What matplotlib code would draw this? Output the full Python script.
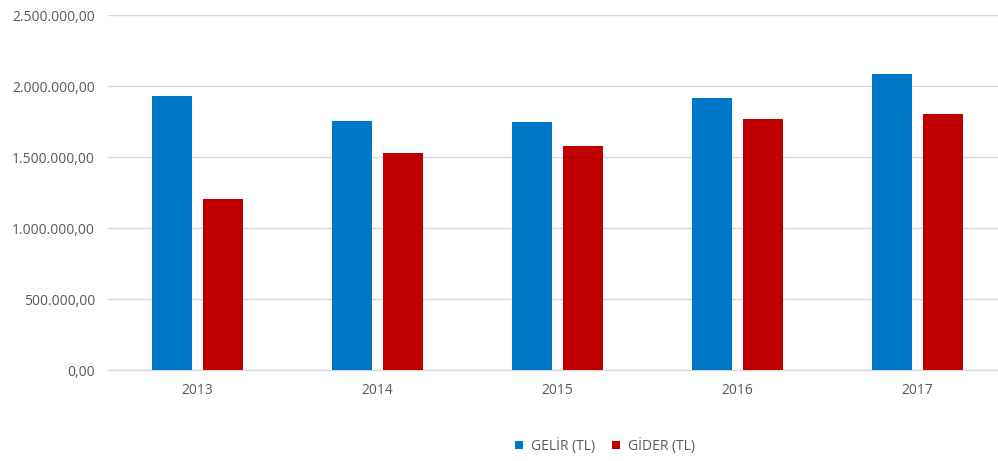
import matplotlib.pyplot as plt
import numpy as np
from matplotlib.ticker import FuncFormatter

plt.rcParams['font.family'] = ['Open Sans', 'DejaVu Sans']

years = ['2013', '2014', '2015', '2016', '2017']
gelir = [1932000, 1756000, 1746000, 1913000, 2082000]
gider = [1202000, 1530000, 1577000, 1765000, 1803000]
series_names = ['GELİR (TL)', 'GİDER (TL)']

blue = '#0078C8'
red = '#C00000'
grey_text = '#595959'
grid_col = '#D9D9D9'

fig = plt.figure(figsize=(9.98, 4.61), dpi=100)
ax = fig.add_axes([107.5 / 998, 91 / 461, 890.5 / 998, 355 / 461])

x = np.arange(len(years))
w = 0.222
off = 0.144
ax.bar(x - off, gelir, width=w, color=blue, label=series_names[0], zorder=3)
ax.bar(x + off, gider, width=w, color=red, label=series_names[1], zorder=3)

ax.set_xlim(-0.5, 4.447)
ax.set_ylim(0, 2500000)
ax.set_yticks(np.arange(0, 2500001, 500000))
ax.set_xticks(x)
ax.set_xticklabels(years)


def tr_fmt(v, pos):
    s = f'{v:,.2f}'
    return s.replace(',', 'X').replace('.', ',').replace('X', '.')


ax.yaxis.set_major_formatter(FuncFormatter(tr_fmt))
ax.grid(axis='y', color=grid_col, linewidth=1.0, zorder=0)
for sp in ['top', 'right', 'left']:
    ax.spines[sp].set_visible(False)
ax.spines['bottom'].set_color(grid_col)
ax.spines['bottom'].set_linewidth(1.0)
ax.tick_params(axis='both', length=0, labelsize=10, labelcolor=grey_text)
ax.tick_params(axis='y', pad=9)
ax.tick_params(axis='x', pad=9)

leg = fig.legend(loc='center', bbox_to_anchor=(605 / 998, 15 / 461), ncol=2,
                 frameon=False, fontsize=10, handlelength=0.55, handleheight=0.55,
                 handletextpad=0.6, columnspacing=1.2)
for t in leg.get_texts():
    t.set_color(grey_text)

fig.savefig('out.png', dpi=100)
